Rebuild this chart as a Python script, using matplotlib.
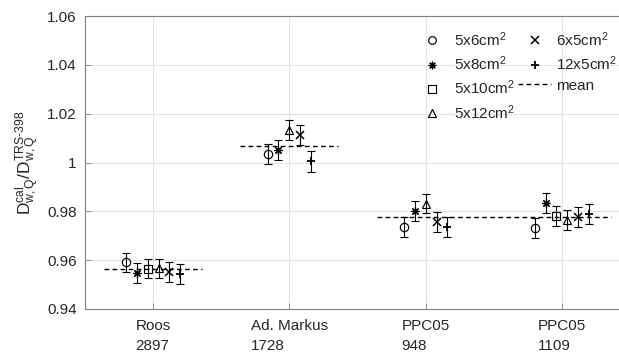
import numpy as np
import matplotlib
matplotlib.use("Agg")
import matplotlib.pyplot as plt
from matplotlib.lines import Line2D

plt.rcParams['font.family'] = ['Liberation Sans', 'DejaVu Sans']
plt.rcParams['mathtext.fontset'] = 'custom'
plt.rcParams['mathtext.rm'] = 'Liberation Sans'
plt.rcParams['mathtext.it'] = 'Liberation Sans:italic'
plt.rcParams['mathtext.bf'] = 'Liberation Sans:bold'

# chambers (x categories)
chambers = ['Roos\n2897', 'Ad. Markus\n1728', 'PPC05\n948', 'PPC05\n1109']

# field sizes, one series each (nan = not measured)
fields = ['5x6cm$^2$', '5x8cm$^2$', '5x10cm$^2$', '5x12cm$^2$', '6x5cm$^2$', '12x5cm$^2$']
markers = ['o', (8, 2, 0), 's', '^', 'x', '+']
marker_widths = [0.85, 0.85, 0.85, 0.85, 1.1, 1.3]

ratio_5x6 = [0.9592, 1.0036, 0.9736, 0.9731]
ratio_5x8 = [0.9547, 1.0052, 0.9800, 0.9835]
ratio_5x10 = [0.9565, np.nan, np.nan, 0.9779]
ratio_5x12 = [0.9567, 1.0135, 0.9832, 0.9764]
ratio_6x5 = [0.9552, 1.0112, 0.9758, 0.9777]
ratio_12x5 = [0.9544, 1.0005, 0.9736, 0.9789]

err_5x6 = [0.0039, 0.0041, 0.0040, 0.0041]
err_5x8 = [0.0040, 0.0042, 0.0041, 0.0042]
err_5x10 = [0.0040, np.nan, np.nan, 0.0041]
err_5x12 = [0.0039, 0.0041, 0.0040, 0.0040]
err_6x5 = [0.0041, 0.0040, 0.0041, 0.0041]
err_12x5 = [0.0041, 0.0043, 0.0040, 0.0041]

# mean per chamber type (PPC05 pooled over both serials)
mean_values = [0.9562, 1.0069, 0.9777]
mean_groups = [[0], [1], [2, 3]]

ratios = np.array([ratio_5x6, ratio_5x8, ratio_5x10, ratio_5x12, ratio_6x5, ratio_12x5])
errs = np.array([err_5x6, err_5x8, err_5x10, err_5x12, err_6x5, err_12x5])

fig = plt.figure(figsize=(6.19, 3.56), dpi=100)
ax = fig.add_axes([85 / 619, 47 / 356, 545 / 619, 293 / 356])

step = 0.08
xc = np.arange(1, len(chambers) + 1)
for j in range(len(chambers)):
    have = [i for i in range(len(fields)) if not np.isnan(ratios[i, j])]
    n = len(have)
    for k, i in enumerate(have):
        x = xc[j] + (k - (n - 1) / 2) * step
        ax.errorbar(x, ratios[i, j], yerr=errs[i, j], fmt='none', ecolor='black',
                    elinewidth=0.8, capsize=2.6, capthick=0.8, zorder=3)
        ax.plot(x, ratios[i, j], linestyle='none', marker=markers[i], ms=6,
                mfc='none', mec='black', mew=marker_widths[i], zorder=4)

for m, grp in zip(mean_values, mean_groups):
    ax.plot([xc[grp[0]] - 0.36, xc[grp[-1]] + 0.36], [m, m], color='black',
            lw=1.0, dashes=(3.4, 2.4), zorder=2)

ax.set_xlim(0.5, 4.5)
ax.set_ylim(0.94, 1.06)
ax.set_xticks(xc)
ax.set_xticklabels(chambers, ma='left', linespacing=1.5, fontsize=11.6)
ax.set_yticks(np.arange(0.94, 1.061, 0.02))
ax.set_yticklabels(['0.94', '0.96', '0.98', '1', '1.02', '1.04', '1.06'])
ax.grid(True, color='#e3e3e3', lw=0.8)
ax.set_axisbelow(True)
ax.tick_params(direction='in', length=4, width=0.6, colors='#7f7f7f',
               labelcolor='#262626', labelsize=11, pad=6)
ax.tick_params(axis='x', pad=7.5)
for s in ax.spines.values():
    s.set_color('#7f7f7f')
    s.set_linewidth(0.8)

ax.set_ylabel(r'$\mathregular{D^{cal}_{w,Q}/D^{TRS\text{-}398}_{w,Q}}$', fontsize=12.5,
              color='#262626')
ax.yaxis.set_label_coords(-0.078, 0.5)

handles = [Line2D([], [], linestyle='none', marker=mk, ms=5.5, mfc='none', mec='black', mew=mw)
           for mk, mw in zip(markers, marker_widths)]
handles.append(Line2D([], [], color='black', lw=1.0, dashes=(3.4, 2.4)))
labels = fields + ['mean']
ax.legend(handles, labels, ncol=2, frameon=False, loc='upper left',
          bbox_to_anchor=(416 / 619, 1 - 30 / 356), bbox_transform=fig.transFigure,
          borderpad=0, borderaxespad=0, handlelength=2.15, handletextpad=0.35,
          columnspacing=0.2, labelspacing=0.38, fontsize=11, labelcolor='#262626')

fig.savefig('out.png', dpi=100)
